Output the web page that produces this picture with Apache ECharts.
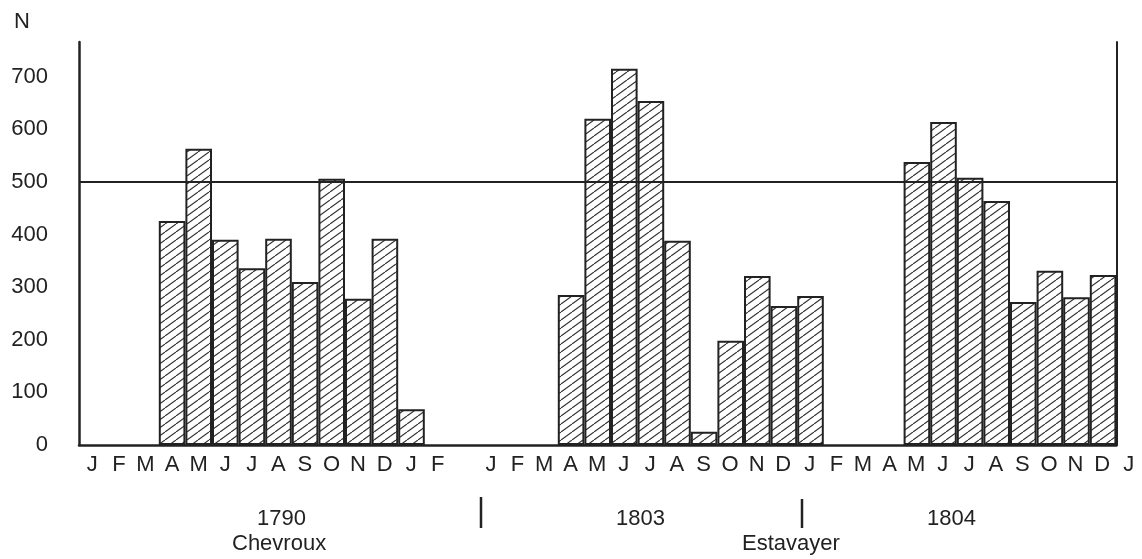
<!DOCTYPE html>
<html>
<head>
<meta charset="utf-8">
<script src="https://cdn.jsdelivr.net/npm/echarts@6/dist/echarts.min.js"></script>
<style>
html,body{margin:0;padding:0;background:#fff;}
#main{width:1142px;height:559px;}
</style>
</head>
<body>
<div id="main"></div>
<script>
// Month letters along the x axis (last "J" sits past the right frame line)
const monthLabels = ['J','F','M','A','M','J','J','A','S','O','N','D','J','F','',
  'J','F','M','A','M','J','J','A','S','O','N','D',
  'J','F','M','A','M','J','J','A','S','O','N','D','J'];
// Monthly counts N (null = no bar)
const countsN = [null,null,null,426,563,390,336,392,310,506,278,392,68,null,null,
  null,null,null,285,620,715,654,388,25,198,321,264,
  283,null,null,null,538,614,508,464,272,331,281,323];
const referenceLevel = 500;
const yTickMax = 700;
const yTickStep = 100;
const yearLabels = ['1790','1803','1804'];
const placeLabels = ['Chevroux','Estavayer'];

const barCats = monthLabels.slice(0, countsN.length);
const ink = '#222';
const font = "'Liberation Sans', Arial, Helvetica, sans-serif";

// diagonal hatch pattern
const tile = document.createElement('canvas');
const tw = 11, th = 8;
tile.width = tw; tile.height = th;
const c = tile.getContext('2d');
c.fillStyle = '#fff'; c.fillRect(0,0,tw,th);
c.strokeStyle = '#333'; c.lineWidth = 1.15;
for (let k = -1; k <= 1; k++) {
  c.beginPath();
  c.moveTo(k*tw, th); c.lineTo((k+1)*tw, 0);
  c.stroke();
}

const chart = echarts.init(document.getElementById('main'), null, {renderer:'canvas'});
const gridTop = 42, gridBottom = 114, gridLeft = 79, catW = 26.6;

chart.setOption({
  animation: false,
  backgroundColor: '#fff',
  title: {text: 'N', left: 9, top: 6, textStyle: {fontFamily: font, fontSize: 22, fontWeight: 'normal', color: ink}},
  grid: [
    {left: gridLeft, top: gridTop, bottom: gridBottom, width: catW * barCats.length},
    {left: gridLeft, top: gridTop, bottom: gridBottom, width: catW * monthLabels.length}
  ],
  xAxis: [
    {type: 'category', gridIndex: 0, data: barCats, boundaryGap: true,
     axisLine: {show: true, lineStyle: {color: ink, width: 2.5}},
     axisTick: {show: false}, axisLabel: {show: false}, splitLine: {show: false}},
    {type: 'category', gridIndex: 1, data: monthLabels, boundaryGap: true,
     axisLine: {show: false}, axisTick: {show: false},
     axisLabel: {show: true, interval: 0, margin: 9, color: ink, fontFamily: font, fontSize: 22},
     splitLine: {show: false}}
  ],
  yAxis: [
    {type: 'value', gridIndex: 0, min: 0, max: 766, interval: yTickStep, position: 'left',
     axisLine: {show: true, lineStyle: {color: ink, width: 2.5}},
     axisTick: {show: false}, splitLine: {show: false},
     axisLabel: {showMaxLabel: false, margin: 31, color: ink, fontFamily: font, fontSize: 22,
       formatter: v => (v <= yTickMax ? String(v) : '')}},
    {type: 'value', gridIndex: 0, min: 0, max: 766, position: 'right',
     axisLine: {show: true, lineStyle: {color: ink, width: 2}},
     axisTick: {show: false}, axisLabel: {show: false}, splitLine: {show: false}},
    {type: 'value', gridIndex: 1, min: 0, max: 766, show: false}
  ],
  series: [{
    type: 'bar', xAxisIndex: 0, yAxisIndex: 0,
    data: countsN,
    barCategoryGap: '0%',
    itemStyle: {color: {image: tile, repeat: 'repeat'}, borderColor: ink, borderWidth: 2},
    emphasis: {disabled: true},
    markLine: {
      silent: true, symbol: ['none','none'], label: {show: false},
      lineStyle: {color: ink, width: 2, type: 'solid'},
      data: [{yAxis: referenceLevel}]
    }
  }],
  graphic: [
    {type: 'text', left: 257, top: 508, style: {text: yearLabels[0], font: '22px ' + font, fill: ink}},
    {type: 'text', left: 616, top: 508, style: {text: yearLabels[1], font: '22px ' + font, fill: ink}},
    {type: 'text', left: 927, top: 508, style: {text: yearLabels[2], font: '22px ' + font, fill: ink}},
    {type: 'text', left: 232, top: 533, style: {text: placeLabels[0], font: '22px ' + font, fill: ink}},
    {type: 'text', left: 742, top: 533, style: {text: placeLabels[1], font: '22px ' + font, fill: ink}},
    {type: 'line', shape: {x1: 481, y1: 497, x2: 481, y2: 528}, style: {stroke: ink, lineWidth: 2.5}},
    {type: 'line', shape: {x1: 802, y1: 499, x2: 802, y2: 528}, style: {stroke: ink, lineWidth: 2.5}}
  ]
});
</script>
</body>
</html>
